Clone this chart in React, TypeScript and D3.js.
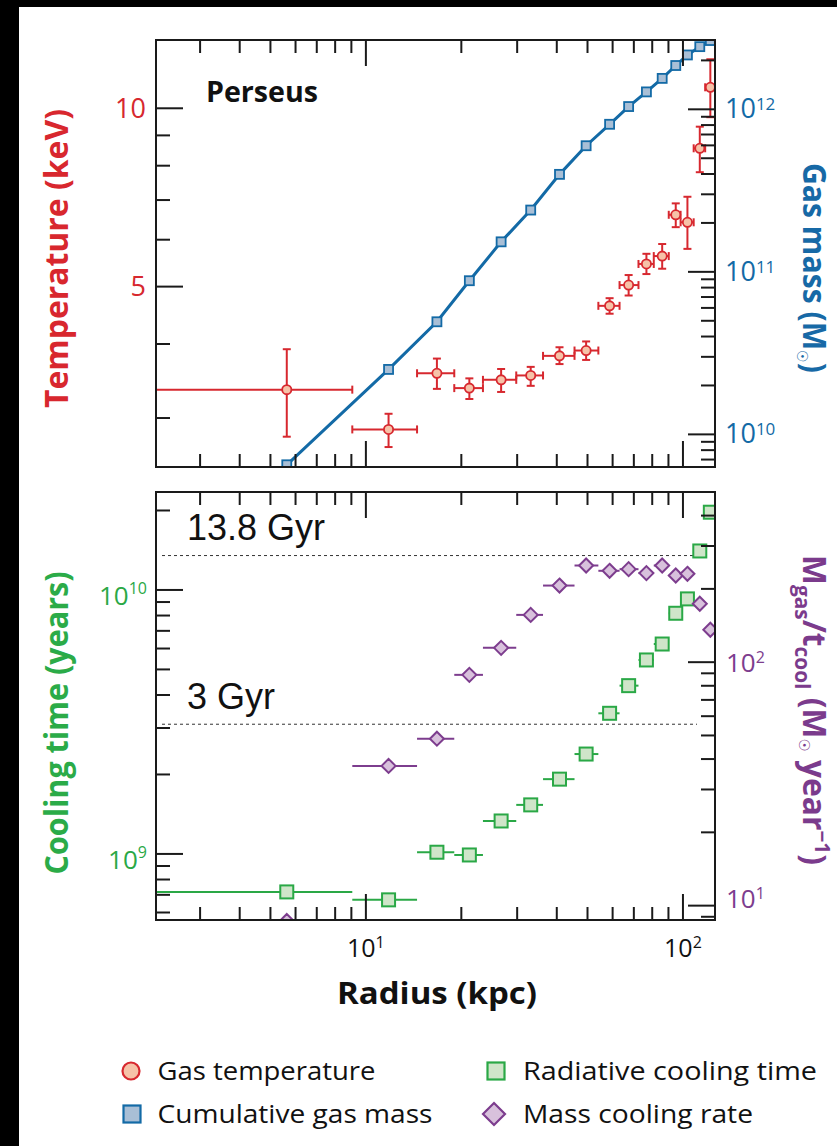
import React from "react";
import * as d3 from "d3";

// ---- data ----
const radius = [5.63, 11.79, 16.75, 21.2, 26.7, 33.1, 40.8, 49.5, 58.7, 67.4, 76.7, 86.0, 94.9, 103.3, 113.0, 122.0];
const radiusLo = [1.5, 9.06, 14.5, 19.0, 23.4, 29.8, 36.2, 45.5, 54.1, 63.1, 72.4, 80.9, 90.2, 98.3, 108.1, 117.5];
const radiusHi = [9.06, 14.5, 19.0, 23.4, 29.8, 36.2, 45.5, 54.1, 63.1, 72.4, 80.9, 90.2, 98.3, 108.1, 117.5, 127.0];

const temperature = [3.35, 2.87, 3.57, 3.37, 3.48, 3.54, 3.82, 3.9, 4.64, 5.03, 5.46, 5.63, 6.61, 6.42, 8.56, 10.85];
const temperatureLo = [2.79, 2.68, 3.36, 3.23, 3.32, 3.4, 3.7, 3.76, 4.5, 4.83, 5.25, 5.36, 6.3, 5.79, 7.8, 9.66];
const temperatureHi = [3.92, 3.05, 3.78, 3.5, 3.63, 3.66, 3.95, 4.04, 4.78, 5.23, 5.68, 5.9, 6.91, 7.09, 9.31, 12.1];

const gasMass = [6.5e9, 2.51e10, 4.93e10, 8.82e10, 1.53e11, 2.4e11, 3.98e11, 5.97e11, 8.09e11, 1.04e12, 1.28e12, 1.55e12, 1.86e12, 2.16e12, 2.43e12, 2.65e12];

const coolingTime = [7.18e8, 6.7e8, 1.015e9, 9.91e8, 1.333e9, 1.534e9, 1.92e9, 2.39e9, 3.41e9, 4.34e9, 5.43e9, 6.24e9, 8.16e9, 9.25e9, 1.405e10, 1.97e10];
const massCoolingRate = [8.65, 37.5, 48.5, 88.7, 114.5, 156.4, 206.4, 249.5, 237.3, 241.0, 232.2, 249.5, 227.0, 230.6, 173.8, 135.9];

const referenceTimes = [1.35e10, 3.1e9];
const referenceLabels = ["13.8 Gyr", "3 Gyr"];

const tempMajor = [5, 10];
const legendLabels = ["Gas temperature", "Cumulative gas mass", "Radiative cooling time", "Mass cooling rate"];

// ---- styles ----
const RED = "#d7282f";
const RED_FILL = "#f6c2a8";
const BLUE = "#136aa6";
const BLUE_FILL = "#a9bfd6";
const GREEN = "#2aa846";
const GREEN_FILL = "#cfe5c9";
const PURPLE = "#7d3d8e";
const PURPLE_FILL = "#d8c1dc";
const FONT = "'Open Sans', 'Noto Sans', sans-serif";
const ARIAL = "'Liberation Sans', Arial, sans-serif";

const W = 837;
const H = 1146;
const L = 156;
const R = 715;
const T1 = 40;
const B1 = 467;
const T2 = 492;
const B2 = 920;

const mantissa = (v: number) => {
  const e = Math.floor(Math.log10(v) + 1e-9);
  return Math.round(v / Math.pow(10, e));
};

export default function App() {
  const x = d3.scaleLog().domain([2.178, 126.2]).range([L, R]);
  const yT = d3.scaleLog().domain([2.48, 13.04]).range([B1, T1]);
  const yM = d3.scaleLog().domain([6.3e9, 2.67e12]).range([B1, T1]);
  const yC = d3.scaleLog().domain([5.62e8, 2.35e10]).range([B2, T2]);
  const yR = d3.scaleLog().domain([8.73, 500]).range([B2, T2]);

  const idx = d3.range(radius.length);
  const massLine = d3
    .line<number>()
    .x((i) => x(radius[i]))
    .y((i) => yM(gasMass[i]))(idx) as string;

  const tickStroke = { stroke: "#1a1a1a", strokeWidth: 2 };
  const MAJ = 26;
  const MIN = 13;

  const xTicks = (top: number, bottom: number, key: string) =>
    x.ticks().map((v, i) => {
      const len = mantissa(v) === 1 ? MAJ : MIN;
      const px = x(v);
      return (
        <g key={key + i} {...tickStroke}>
          <line x1={px} x2={px} y1={top} y2={top + len} />
          <line x1={px} x2={px} y1={bottom} y2={bottom - len} />
        </g>
      );
    });

  const yTicks = (scale: any, side: "left" | "right", major: (v: number) => boolean, key: string) =>
    scale.ticks().map((v: number, i: number) => {
      const len = major(v) ? MAJ + 1 : MIN + 1;
      const py = scale(v);
      return side === "left" ? (
        <line key={key + i} x1={L} x2={L + len} y1={py} y2={py} {...tickStroke} />
      ) : (
        <line key={key + i} x1={R - len} x2={R} y1={py} y2={py} {...tickStroke} />
      );
    });

  const diamond = (cx: number, cy: number, h: number) =>
    `M${cx},${cy - h}L${cx + h},${cy}L${cx},${cy + h}L${cx - h},${cy}Z`;

  const cap = 4;

  return (
    <svg
      width={W}
      height={H}
      viewBox={`0 0 ${W} ${H}`}
      style={{ position: "absolute", left: 0, top: 0, background: "#fff" }}
    >
      <rect x={0} y={0} width={W} height={H} fill="#fff" />
      <rect x={0} y={0} width={W} height={7} fill="#000" />
      <rect x={0} y={0} width={19} height={H} fill="#000" />

      <defs>
        <clipPath id="clipTop">
          <rect x={L} y={T1} width={R - L} height={B1 - T1} />
        </clipPath>
        <clipPath id="clipBot">
          <rect x={L} y={T2} width={R - L} height={B2 - T2} />
        </clipPath>
      </defs>

      {/* ===== TOP PANEL ===== */}
      <g clipPath="url(#clipTop)">
        <path d={massLine} fill="none" stroke={BLUE} strokeWidth={3} />
        {idx.map((i) => (
          <rect
            key={"sq" + i}
            x={x(radius[i]) - 4.5}
            y={yM(gasMass[i]) - 4.5}
            width={9}
            height={9}
            fill={BLUE_FILL}
            stroke={BLUE}
            strokeWidth={1.8}
          />
        ))}
        {idx.map((i) => {
          const cx = x(radius[i]);
          const cy = yT(temperature[i]);
          const x0 = x(radiusLo[i]);
          const x1 = x(radiusHi[i]);
          const y0 = yT(temperatureLo[i]);
          const y1 = yT(temperatureHi[i]);
          return (
            <g key={"t" + i} stroke={RED} strokeWidth={2}>
              <line x1={x0} x2={x1} y1={cy} y2={cy} />
              <line x1={x0} x2={x0} y1={cy - cap} y2={cy + cap} />
              <line x1={x1} x2={x1} y1={cy - cap} y2={cy + cap} />
              <line x1={cx} x2={cx} y1={y0} y2={y1} />
              <line x1={cx - cap} x2={cx + cap} y1={y0} y2={y0} />
              <line x1={cx - cap} x2={cx + cap} y1={y1} y2={y1} />
              <circle cx={cx} cy={cy} r={4.6} fill={RED_FILL} strokeWidth={1.8} />
            </g>
          );
        })}
      </g>
      {xTicks(T1, B1, "xt")}
      {yTicks(yT, "left", (v) => tempMajor.some((m) => Math.abs(v - m) < 1e-6), "yt")}
      {yTicks(yM, "right", (v) => mantissa(v) === 1, "ym")}
      <rect x={L} y={T1} width={R - L} height={B1 - T1} fill="none" stroke="#1a1a1a" strokeWidth={2} />

      <text x={206} y={101.5} fontFamily={FONT} fontWeight={700} fontSize={29} fill="#111" textLength={112} lengthAdjust="spacingAndGlyphs">
        Perseus
      </text>

      {/* left tick labels (temperature) */}
      {tempMajor.map((v) => (
        <text key={"tl" + v} x={146} y={yT(v) + 9.5} textAnchor="end" fontFamily={FONT} fontSize={27} fill={RED}>
          {v}
        </text>
      ))}
      {/* right tick labels (gas mass) */}
      {yM.ticks().filter((v) => mantissa(v) === 1).map((v) => (
        <text key={"ml" + v} x={725} y={yM(v) + 9} fontFamily={FONT} fontSize={27} fill={BLUE}>
          10
          <tspan dy={-8} fontSize={17}>
            {Math.round(Math.log10(v))}
          </tspan>
        </text>
      ))}

      <text
        transform="translate(68,258.5) rotate(-90)"
        textAnchor="middle"
        fontFamily={FONT}
        fontWeight={700}
        fontSize={32}
        fill="#d8272e"
        textLength={299}
        lengthAdjust="spacingAndGlyphs"
      >
        Temperature (keV)
      </text>
      <text
        transform="translate(803,268) rotate(90)"
        textAnchor="middle"
        fontFamily={FONT}
        fontWeight={700}
        fontSize={32}
        fill="#1769a6"
        textLength={210}
        lengthAdjust="spacingAndGlyphs"
      >
        Gas mass (M
        <tspan dy={6} fontSize={15} fontFamily="'DejaVu Sans', sans-serif">☉</tspan>
        <tspan dy={-6}>)</tspan>
      </text>

      {/* ===== BOTTOM PANEL ===== */}
      {referenceTimes.map((t, i) => (
        <g key={"ref" + i}>
          <line x1={162} x2={697} y1={yC(t)} y2={yC(t)} stroke="#333" strokeWidth={1} strokeDasharray="3,3" />
          <text x={187} y={yC(t) - 15.5} fontFamily={ARIAL} fontSize={36} fill="#111">
            {referenceLabels[i]}
          </text>
        </g>
      ))}
      <g clipPath="url(#clipBot)">
        {idx.map((i) => {
          const cx = x(radius[i]);
          const cy = yC(coolingTime[i]);
          return (
            <g key={"c" + i}>
              <line x1={x(radiusLo[i])} x2={x(radiusHi[i])} y1={cy} y2={cy} stroke={GREEN} strokeWidth={2} />
              <rect x={cx - 6.5} y={cy - 6.5} width={13} height={13} fill={GREEN_FILL} stroke={GREEN} strokeWidth={2} />
            </g>
          );
        })}
        {idx.map((i) => {
          const cx = x(radius[i]);
          const cy = yR(massCoolingRate[i]);
          return (
            <g key={"r" + i}>
              <line x1={x(radiusLo[i])} x2={x(radiusHi[i])} y1={cy} y2={cy} stroke={PURPLE} strokeWidth={2} />
              <path d={diamond(cx, cy, 7)} fill={PURPLE_FILL} stroke={PURPLE} strokeWidth={2} />
            </g>
          );
        })}
      </g>
      {xTicks(T2, B2, "xb")}
      {yTicks(yC, "left", (v) => mantissa(v) === 1, "yc")}
      {yTicks(yR, "right", (v) => mantissa(v) === 1, "yr")}
      <rect x={L} y={T2} width={R - L} height={B2 - T2} fill="none" stroke="#1a1a1a" strokeWidth={2} />

      {/* left tick labels (cooling time) */}
      {yC.ticks().filter((v) => mantissa(v) === 1).map((v) => (
        <text key={"cl" + v} x={147} y={yC(v) + 15} textAnchor="end" fontFamily={FONT} fontSize={26} fill={GREEN}>
          10
          <tspan dy={-11} fontSize={16}>
            {Math.round(Math.log10(v))}
          </tspan>
        </text>
      ))}
      {/* right tick labels (cooling rate) */}
      {yR.ticks().filter((v) => mantissa(v) === 1).map((v) => (
        <text key={"rl" + v} x={726} y={Math.min(yR(v) + 10, 908)} fontFamily={FONT} fontSize={26} fill={PURPLE}>
          10
          <tspan dy={-9} fontSize={16}>
            {Math.round(Math.log10(v))}
          </tspan>
        </text>
      ))}
      {/* x tick labels */}
      {x.ticks().filter((v) => mantissa(v) === 1 && v > 5).map((v) => (
        <text key={"xl" + v} x={x(v)} y={957} textAnchor="middle" fontFamily={FONT} fontSize={25} fill="#111">
          10
          <tspan dy={-9} fontSize={16}>
            {Math.round(Math.log10(v))}
          </tspan>
        </text>
      ))}

      <text
        transform="translate(68,723) rotate(-90)"
        textAnchor="middle"
        fontFamily={FONT}
        fontWeight={700}
        fontSize={32}
        fill="#2bab48"
        textLength={303}
        lengthAdjust="spacingAndGlyphs"
      >
        Cooling time (years)
      </text>
      <text
        transform="translate(803,710) rotate(90)"
        textAnchor="middle"
        fontFamily={FONT}
        fontWeight={700}
        fontSize={32}
        fill="#7b3b8c"
        textLength={310}
        lengthAdjust="spacingAndGlyphs"
      >
        M<tspan dy={8} fontSize={21}>gas</tspan>
        <tspan dy={-8}>/t</tspan>
        <tspan dy={8} fontSize={21}>cool</tspan>
        <tspan dy={-8}> (M</tspan>
        <tspan dy={4} fontSize={15} fontFamily="'DejaVu Sans', sans-serif">☉</tspan>
        <tspan dy={-4}> year</tspan>
        <tspan dy={-12} fontSize={21}>−1</tspan>
        <tspan dy={12}>)</tspan>
      </text>

      <text x={437} y={1004} textAnchor="middle" fontFamily={FONT} fontWeight={700} fontSize={31} fill="#111" textLength={200} lengthAdjust="spacingAndGlyphs">
        Radius (kpc)
      </text>

      {/* ===== LEGEND ===== */}
      <circle cx={131} cy={1071} r={8.5} fill={RED_FILL} stroke={RED} strokeWidth={2.2} />
      <text x={157.5} y={1080} fontFamily={FONT} fontSize={25} fill="#111" textLength={218} lengthAdjust="spacingAndGlyphs">
        {legendLabels[0]}
      </text>
      <rect x={123.5} y={1105.5} width={17} height={17} fill={BLUE_FILL} stroke={BLUE} strokeWidth={2.2} />
      <text x={157.5} y={1123} fontFamily={FONT} fontSize={25} fill="#111" textLength={275} lengthAdjust="spacingAndGlyphs">
        {legendLabels[1]}
      </text>
      <rect x={487.5} y={1062.5} width={17} height={17} fill={GREEN_FILL} stroke={GREEN} strokeWidth={2.2} />
      <text x={523} y={1080} fontFamily={FONT} fontSize={25} fill="#111" textLength={294} lengthAdjust="spacingAndGlyphs">
        {legendLabels[2]}
      </text>
      <path d={diamond(494, 1114, 11)} fill={PURPLE_FILL} stroke={PURPLE} strokeWidth={2.2} />
      <text x={523} y={1123} fontFamily={FONT} fontSize={25} fill="#111" textLength={230} lengthAdjust="spacingAndGlyphs">
        {legendLabels[3]}
      </text>
    </svg>
  );
}
